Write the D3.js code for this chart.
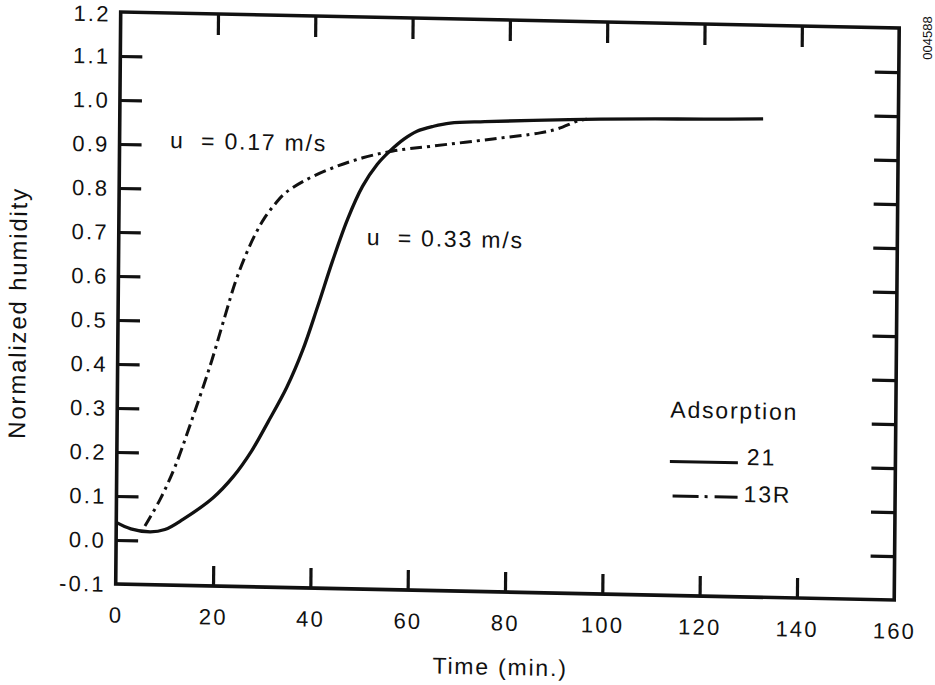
<!DOCTYPE html>
<html>
<head>
<meta charset="utf-8">
<script src="https://cdn.jsdelivr.net/npm/d3@7/dist/d3.min.js"></script>
<style>
  html, body { margin: 0; padding: 0; background: #fff; }
  svg { display: block; }
  text { font-family: "Liberation Sans", Arial, Helvetica, sans-serif; fill: #111; }
</style>
</head>
<body>
<svg id="chart" width="935" height="685"></svg>
<script>
// Axis ticks
const timeTicks = [0, 20, 40, 60, 80, 100, 120, 140, 160];
const humidityTicks = [-0.1, 0.0, 0.1, 0.2, 0.3, 0.4, 0.5, 0.6, 0.7, 0.8, 0.9, 1.0, 1.1, 1.2];

// Adsorption run 21 (u = 0.33 m/s), solid line
const time21 = [0, 3, 7, 10, 13.7, 19.8, 24, 27.7, 31, 34.8, 38, 41, 44, 47, 50, 53, 55.6, 58.5, 61.1, 64.5, 67.9, 75, 85, 98.7, 110, 120, 132.2];
const hum21  = [0.04, 0.026, 0.02, 0.026, 0.05, 0.10, 0.15, 0.209, 0.275, 0.355, 0.44, 0.54, 0.645, 0.74, 0.815, 0.866, 0.897, 0.925, 0.943, 0.955, 0.963, 0.968, 0.973, 0.979, 0.982, 0.984, 0.987];

// Adsorption run 13R (u = 0.17 m/s), dash-dot line
const time13R = [5.9, 9, 12, 15, 19, 22, 24, 26, 28, 30, 32, 34, 38, 43.9, 50, 56.2, 64.4, 76.7, 86.4, 90, 94.2, 96];
const hum13R  = [0.033, 0.095, 0.17, 0.265, 0.40, 0.515, 0.59, 0.65, 0.70, 0.74, 0.77, 0.795, 0.825, 0.856, 0.88, 0.897, 0.91, 0.929, 0.945, 0.955, 0.974, 0.978];

const W = 778.5, H = 572;
const svg = d3.select("#chart");

// The plotted sheet sits slightly askew on the page
const g = svg.append("g")
  .attr("transform", "matrix(1, 0.0206, -0.0087, 1, 120.7, 12)");

const x = d3.scaleLinear().domain([0, 160]).range([0, W]);
const y = d3.scaleLinear().domain([-0.1, 1.2]).range([H, 0]);

const fmtY = d => d.toFixed(1);
const innerY = humidityTicks.slice(1, -1);
const innerX = timeTicks.slice(1, -1);

function styleAxis(sel) {
  sel.select(".domain").remove();
  sel.selectAll(".tick line").attr("stroke", "#111").attr("stroke-width", 3.2);
  sel.selectAll(".tick text")
    .attr("fill", "#111")
    .style("font-size", "22px")
    .style("letter-spacing", "2.2px")
    .style("font-family", "\"Liberation Sans\", Arial, Helvetica, sans-serif");
}

// Left axis: labels and inward ticks
const leftLabels = g.append("g")
  .call(d3.axisLeft(y).tickValues(humidityTicks).tickFormat(fmtY).tickSizeInner(0).tickSizeOuter(0).tickPadding(10))
  .call(styleAxis);
leftLabels.selectAll(".tick text").attr("dy", d => d === 1.2 ? "0.42em" : "0.34em");
g.append("g")
  .call(d3.axisLeft(y).tickValues(innerY).tickFormat("").tickSizeInner(-22).tickSizeOuter(0))
  .call(styleAxis);

// Right axis ticks
g.append("g").attr("transform", `translate(${W},0)`)
  .call(d3.axisRight(y).tickValues(innerY).tickFormat("").tickSizeInner(-24).tickSizeOuter(0))
  .call(styleAxis);

// Bottom axis: labels and inward ticks
g.append("g").attr("transform", `translate(0,${H})`)
  .call(d3.axisBottom(x).tickValues(timeTicks).tickFormat(d3.format("d")).tickSizeInner(0).tickSizeOuter(0).tickPadding(23))
  .call(styleAxis);
g.append("g").attr("transform", `translate(0,${H})`)
  .call(d3.axisBottom(x).tickValues(innerX).tickFormat("").tickSizeInner(-20).tickSizeOuter(0))
  .call(styleAxis);

// Top axis ticks
g.append("g")
  .call(d3.axisTop(x).tickValues(innerX).tickFormat("").tickSizeInner(-21).tickSizeOuter(0))
  .call(styleAxis);

// Frame
g.append("rect")
  .attr("x", 0).attr("y", 0).attr("width", W).attr("height", H)
  .attr("fill", "none").attr("stroke", "#111").attr("stroke-width", 3.6);

// Curves
const line = d3.line()
  .x(d => x(d[0]))
  .y(d => y(d[1]))
  .curve(d3.curveCatmullRom.alpha(0.5));

const data21 = time21.map((t, i) => [t, hum21[i]]);
const data13R = time13R.map((t, i) => [t, hum13R[i]]);

g.append("path")
  .datum(data21)
  .attr("d", line)
  .attr("fill", "none")
  .attr("stroke", "#111")
  .attr("stroke-width", 3.3);

g.append("path")
  .datum(data13R)
  .attr("d", line)
  .attr("fill", "none")
  .attr("stroke", "#111")
  .attr("stroke-width", 3)
  .attr("stroke-dasharray", "12 5 3 5");

// Curve annotations
const labelStyle = s => s
  .style("font-size", "23px")
  .style("letter-spacing", "1.8px")
  .style("white-space", "pre");

g.append("text").attr("x", 50.5).attr("y", 135).text("u  = 0.17 m/s").call(labelStyle);
g.append("text").attr("x", 248).attr("y", 228).text("u  = 0.33 m/s").call(labelStyle);

// Legend
const legend = g.append("g");
legend.append("text").attr("x", 553).attr("y", 394).text("Adsorption").call(labelStyle);
legend.append("line")
  .attr("x1", 553).attr("x2", 621).attr("y1", 438).attr("y2", 438)
  .attr("stroke", "#111").attr("stroke-width", 3);
legend.append("text").attr("x", 630).attr("y", 440).text("21").call(labelStyle);
legend.append("line")
  .attr("x1", 556).attr("x2", 621).attr("y1", 472.5).attr("y2", 472.5)
  .attr("stroke", "#111").attr("stroke-width", 3)
  .attr("stroke-dasharray", "26 6 3 7 40");
legend.append("text").attr("x", 627).attr("y", 477).text("13R").call(labelStyle);

// Axis titles
g.append("text")
  .attr("transform", "translate(-92,303) rotate(-90)")
  .attr("text-anchor", "middle")
  .text("Normalized humidity")
  .call(labelStyle)
  .style("font-size", "24px");

g.append("text")
  .attr("x", 385).attr("y", 655)
  .attr("text-anchor", "middle")
  .text("Time (min.)")
  .call(labelStyle);

// Figure number
svg.append("text")
  .attr("transform", "translate(932,38) rotate(-90)")
  .attr("text-anchor", "middle")
  .style("font-size", "13px")
  .text("004588");
</script>
</body>
</html>
